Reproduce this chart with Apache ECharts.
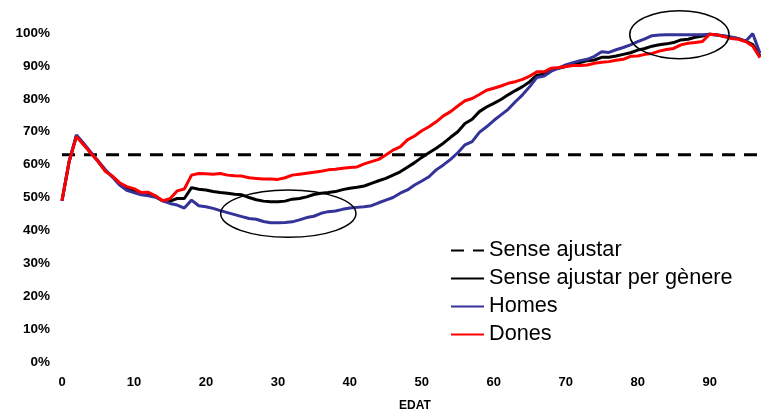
<!DOCTYPE html>
<html>
<head>
<meta charset="utf-8">
<script src="https://cdn.jsdelivr.net/npm/echarts@6/dist/echarts.min.js"></script>
<style>
html,body{margin:0;padding:0;background:#fff;}
#chart{width:761px;height:411px;}
</style>
</head>
<body>
<div id="chart"></div>
<script>
// ---- Data ----
const ages = [];
for (let a = 0; a <= 97; a++) ages.push(a);

const senseAjustarValue = 63; // dashed reference level, %

const senseAjustarPerGenere = [
  49, 61, 68.7, 66.2, 63.6, 61, 58.2, 56.4, 54.2, 52.8,
  52.1, 51.1, 51, 50.3, 49, 48.9, 49.7, 49.7, 53, 52.5,
  52.3, 51.8, 51.5, 51.3, 51, 50.8, 50, 49.3, 48.9, 48.7,
  48.7, 48.9, 49.5, 49.7, 50.2, 50.9, 51.3, 51.5, 51.8, 52.4,
  52.8, 53.1, 53.5, 54.3, 55.1, 55.8, 56.8, 57.8, 59.2, 60.6,
  62.2, 63.6, 65, 66.5, 68.3, 70, 72.5, 73.8, 76.1, 77.5,
  78.6, 79.8, 81.2, 82.5, 83.7, 85.2, 87.2, 87.5, 88.8, 89.3,
  89.8, 90.5, 91, 91.6, 91.8, 92.6, 92.6, 93, 93.5, 94,
  94.8, 95.3, 96, 96.4, 96.7, 97.1, 97.9, 98.1, 98.7, 99.1,
  99.6, 99.4, 99, 98.6, 98.3, 97.5, 96.5, 93
];

const homes = [
  49, 61, 69, 66.5, 63.8, 61.2, 58.5, 56.2, 53.8, 52.2,
  51.5, 50.8, 50.5, 50.1, 49, 48.2, 47.7, 46.8, 49.2, 47.5,
  47.2, 46.7, 46, 45.4, 44.8, 44.2, 43.6, 43.4, 42.7, 42.3,
  42.3, 42.4, 42.6, 43.2, 43.9, 44.3, 45.2, 45.7, 45.9, 46.4,
  46.8, 47, 47.2, 47.5, 48.4, 49.2, 50, 51.3, 52.3, 53.8,
  55, 56.3, 58.4, 59.9, 61.6, 63.6, 66, 67, 69.8, 71.5,
  73.4, 75.1, 76.8, 79.1, 81.2, 83.7, 86.5, 86.9, 88.4, 89.3,
  90.3, 91, 91.6, 92, 92.9, 94.3, 94.1, 94.9, 95.6, 96.4,
  97.4, 98.2, 99.2, 99.4, 99.5, 99.5, 99.5, 99.5, 99.5, 99.5,
  99.6, 99.4, 99.2, 98.8, 98.3, 97.5, 99.8, 93.8
];

const dones = [
  49, 61, 68.5, 66, 63.5, 61, 58, 56.5, 54.5, 53.3,
  52.7, 51.5, 51.6, 50.5, 49, 49.6, 52, 52.6, 56.8, 57.3,
  57.2, 57.1, 57.3, 56.8, 56.6, 56.5, 56, 55.8, 55.6, 55.6,
  55.5, 56, 56.8, 57.1, 57.4, 57.7, 58, 58.4, 58.6, 58.9,
  59.1, 59.3, 60.2, 60.9, 61.6, 62.9, 64.4, 65.4, 67.5, 68.7,
  70.3, 71.5, 73, 74.8, 76.1, 77.8, 79.4, 80.1, 81.3, 82.6,
  83.2, 83.9, 84.7, 85.2, 85.9, 86.9, 88.2, 88.2, 89.3, 89.5,
  89.8, 90.1, 90.1, 90.3, 90.8, 91.1, 91.3, 91.7, 92, 92.9,
  93, 93.5, 93.8, 94.5, 95, 95.3, 96.4, 96.9, 97.1, 97.4,
  99.6, 99.5, 98.9, 98.3, 98.1, 97.4, 96, 92.5
];

const seriesNames = ['Sense ajustar', 'Sense ajustar per gènere', 'Homes', 'Dones'];
const xTicks = [0, 10, 20, 30, 40, 50, 60, 70, 80, 90];

// annotation ellipses in data units: [centerAge, centerValue, radiusAge, radiusValue]
const ellipseAnnotations = [
  [31.45, 45.1, 9.4, 7.2],
  [85.8, 99.5, 6.9, 7.3]
];

// ---- Chart ----
const FONT = "'Liberation Sans', Arial, sans-serif";
const chart = echarts.init(document.getElementById('chart'), null, {renderer: 'canvas'});
const pair = arr => ages.map((a, i) => [a, arr[i]]);

const option = {
  animation: false,
  backgroundColor: '#fff',
  grid: {left: 62, right: 1, top: 33, bottom: 49, containLabel: false, outerBoundsMode: 'none'},
  xAxis: {
    type: 'value', min: 0, max: 97, interval: 10,
    name: 'EDAT', nameLocation: 'middle', nameGap: 38,
    nameTextStyle: {fontFamily: FONT, fontWeight: 'bold', fontSize: 12, color: '#000', padding: [0, 0, 0, 8]},
    axisLine: {show: false}, axisTick: {show: false}, splitLine: {show: false},
    axisLabel: {
      fontFamily: FONT, fontWeight: 'bold', fontSize: 13, color: '#000', margin: 13.5,
      formatter: v => xTicks.indexOf(v) >= 0 ? String(v) : ''
    }
  },
  yAxis: {
    type: 'value', min: 0, max: 100, interval: 10,
    axisLine: {show: false}, axisTick: {show: false}, splitLine: {show: false},
    axisLabel: {fontFamily: FONT, fontWeight: 'bold', fontSize: 13.5, color: '#000', margin: 12, formatter: '{value}%'}
  },
  legend: {
    orient: 'vertical', left: 450, top: 239.5, padding: 0,
    itemWidth: 33, itemHeight: 14, itemGap: 6,
    itemStyle: {opacity: 0},
    textStyle: {fontFamily: FONT, fontSize: 21.7, color: '#000', padding: [0, 0, 0, 0]},
    data: seriesNames
  },
  series: [
    {name: seriesNames[0], type: 'line', symbol: 'none', silent: true,
     data: [[ages[0], senseAjustarValue], [ages[ages.length - 1], senseAjustarValue]],
     lineStyle: {color: '#000', width: 3, type: [13, 9]}, itemStyle: {color: '#000'}},
    {name: seriesNames[1], type: 'line', symbol: 'none', data: pair(senseAjustarPerGenere),
     lineStyle: {color: '#000', width: 3}, itemStyle: {color: '#000'}},
    {name: seriesNames[2], type: 'line', symbol: 'none', data: pair(homes),
     lineStyle: {color: '#333399', width: 3}, itemStyle: {color: '#333399'}},
    {name: seriesNames[3], type: 'line', symbol: 'none', data: pair(dones),
     lineStyle: {color: '#ff0000', width: 3}, itemStyle: {color: '#ff0000'}}
  ]
};
chart.setOption(option);

// ellipses positioned through the axes
const graphics = ellipseAnnotations.map(e => {
  const c = chart.convertToPixel({gridIndex: 0}, [e[0], e[1]]);
  const p = chart.convertToPixel({gridIndex: 0}, [e[0] + e[2], e[1] + e[3]]);
  return {
    type: 'ellipse', z: 100,
    shape: {cx: c[0], cy: c[1], rx: Math.abs(p[0] - c[0]), ry: Math.abs(c[1] - p[1])},
    style: {fill: null, stroke: '#000', lineWidth: 1.5}
  };
});
chart.setOption({graphic: graphics});
</script>
</body>
</html>
